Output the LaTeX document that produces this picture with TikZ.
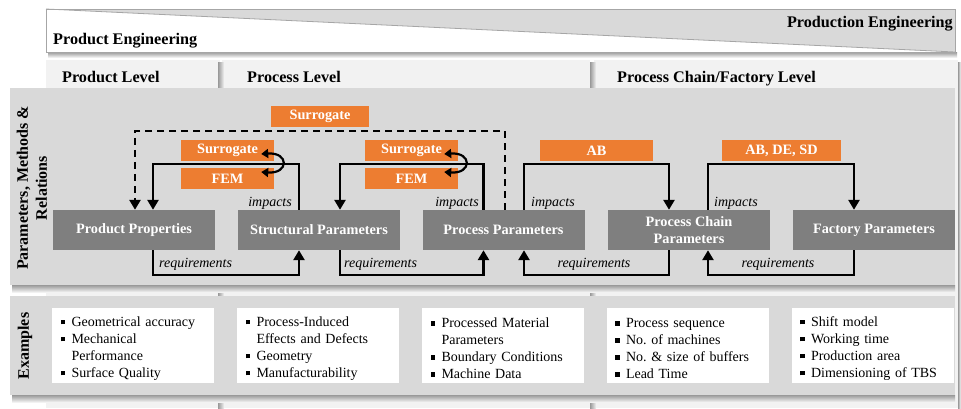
\documentclass[tikz,border=0pt]{standalone}
\usepackage{fontspec}
\setmainfont{Liberation Serif}
\usetikzlibrary{arrows.meta,calc}
\definecolor{band}{HTML}{D9D9D9}
\definecolor{panel}{HTML}{F2F2F2}
\definecolor{dbox}{HTML}{7F7F7F}
\definecolor{orng}{HTML}{ED7D31}
\newcommand\bitem[1]{\par\noindent\makebox[11pt][l]{\rule[2pt]{4.5pt}{4.5pt}}#1}
\newcommand\bcont[1]{\par\noindent\hspace*{11pt}#1}
\tikzset{
  hdr/.style={font=\fontsize{16.2}{18}\selectfont\bfseries, inner sep=0pt},
  lvl/.style={font=\fontsize{16.2}{18}\selectfont\bfseries, inner sep=0pt, anchor=base west},
  side/.style={font=\fontsize{16}{19}\selectfont\bfseries, rotate=90, align=center, inner sep=0pt},
  dbx/.style={fill=dbox, text=white, font=\fontsize{14.3}{17}\selectfont\bfseries, minimum width=162pt, minimum height=40pt, inner sep=0pt, align=center},
  obx/.style={fill=orng, text=white, font=\fontsize{14.3}{17}\selectfont\bfseries, minimum height=21pt, inner sep=0pt},
  conn/.style={line width=2.5pt, -{Triangle[length=10pt,width=11pt]}},
  dconn/.style={conn, dash pattern=on 7pt off 5pt},
  cyc/.style={line width=2.2pt, {Triangle[length=7pt,width=9pt]}-{Triangle[length=7pt,width=9pt]}},
  lbl/.style={font=\fontsize{14}{16}\selectfont\itshape, inner sep=0pt},
  exbox/.style={fill=white, minimum width=162pt, minimum height=75pt, text width=145pt, inner xsep=8.5pt, inner ysep=0pt, font=\fontsize{14}{17}\selectfont\frenchspacing, align=left}
}
\begin{document}
\begin{tikzpicture}[x=1pt,y=-1pt]
\useasboundingbox (0,0) rectangle (961,408);
\fill[white] (0,0) rectangle (961,408);
% column panels
\fill[panel] (46,60) rectangle (220,408);
\fill[panel] (222,60) rectangle (590,408);
\fill[panel] (594,60) rectangle (958,408);
\shade[left color=gray!80, right color=panel] (218,62) rectangle (224,408);
\shade[left color=gray!80, right color=panel] (590,62) rectangle (596,408);
\shade[left color=gray!80, right color=white] (958,62) rectangle (961,408);
% banner
\shade[top color=gray!80, bottom color=white] (48,52) rectangle (957,58);
\fill[white] (46,9) rectangle (955,52);
\fill[band] (46,9) -- (955,9) -- (955,52) -- cycle;
\draw[gray!70, line width=0.8pt] (46,9) -- (955,52);
\draw[gray!70, line width=0.8pt] (46,9) rectangle (955,52);
\node[hdr, anchor=base west] (pe) at (53,44) {Product Engineering};
\node[hdr, anchor=base east] (pre) at (953,27) {Production Engineering};
% level headers
\node[lvl] (l1) at (62,82) {Product Level};
\node[lvl] (l2) at (247,82) {Process Level};
\node[lvl] (l3) at (617,82) {Process Chain/Factory Level};
% bands
\shade[top color=gray!80, bottom color=panel] (12,285) rectangle (955,292);
\fill[band] (10,88) rectangle (955,285);
\shade[top color=gray!80, bottom color=panel] (12,395) rectangle (955,402);
\fill[band] (10,296) rectangle (955,395);
\node[side] (sl1) at (32,188) {Parameters, Methods \&\\Relations};
\node[side] (sl2) at (25,346) {Examples};
% main boxes
\node[dbx] (pp) at (134,230) {Product Properties};
\node[dbx] (sp) at (319,230) {Structural Parameters};
\node[dbx] (prp) at (503.5,230) {Process Parameters};
\node[dbx] (pcp) at (689,230) {Process Chain\\Parameters};
\node[dbx] (fp) at (874,230) {Factory Parameters};
% connectors
\draw[dconn] ([xshift=1.5pt]prp.north) -- ++(0,-79) -| ([xshift=1pt]pp.north);
\draw[conn] ([xshift=-20pt]sp.north) -- ++(0,-46) -| ([xshift=19pt]pp.north);
\draw[conn] ([xshift=-20pt]prp.north) -- ++(0,-46) -| ([xshift=21pt]sp.north);
\draw[conn] ([xshift=20.5pt]prp.north) -- ++(0,-46) -| ([xshift=-20pt]pcp.north);
\draw[conn] ([xshift=19pt]pcp.north) -- ++(0,-46) -| ([xshift=-20pt]fp.north);
\draw[conn] ([xshift=19pt]pp.south) -- ++(0,25) -| ([xshift=-20pt]sp.south);
\draw[conn] ([xshift=21pt]sp.south) -- ++(0,25) -| ([xshift=-20pt]prp.south);
\draw[conn] ([xshift=-20pt]pcp.south) -- ++(0,25) -| ([xshift=20.5pt]prp.south);
\draw[conn] ([xshift=-20pt]fp.south) -- ++(0,25) -| ([xshift=19pt]pcp.south);
% orange boxes
\node[obx, minimum width=98pt] (sur) at (320,116.5) {Surrogate};
\node[obx, minimum width=93pt] (s1) at (227.5,150.5) {Surrogate};
\node[obx, minimum width=93pt] (f1) at (227.5,178.5) {FEM};
\node[obx, minimum width=93pt] (s2) at (411.5,150.5) {Surrogate};
\node[obx, minimum width=93pt] (f2) at (411.5,178.5) {FEM};
\node[obx, minimum width=113pt] (ab) at (596.5,150.5) {AB};
\node[obx, minimum width=119pt] (ads) at (781.5,150.5) {AB, DE, SD};
% cycle arrows
\draw[cyc] ([xshift=-13pt,yshift=-3.5pt]s1.east) .. controls +(28,-2) and +(28,2) .. ([xshift=-13pt,yshift=6.5pt]f1.east);
\draw[cyc] ([xshift=-14pt,yshift=-3.5pt]s2.east) .. controls +(28,-2) and +(28,2) .. ([xshift=-14pt,yshift=6.5pt]f2.east);
% labels
\node[lbl, anchor=east] (i1) at (292,203) {impacts};
\node[lbl, anchor=east] (i2) at (479,203) {impacts};
\node[lbl, anchor=west] (i3) at (531,203) {impacts};
\node[lbl, anchor=west] (i4) at (714,203) {impacts};
\node[lbl, anchor=west] (r1) at (159,264) {requirements};
\node[lbl, anchor=west] (r2) at (344,264) {requirements};
\node[lbl] (r3) at (594,264) {requirements};
\node[lbl] (r4) at (778,264) {requirements};
% examples
\node[exbox] (e1) at (133,345) {\bitem{Geometrical accuracy}\bitem{Mechanical}\bcont{Performance}\bitem{Surface Quality}};
\node[exbox] (e2) at (318,345) {\bitem{Process-Induced}\bcont{Effects and Defects}\bitem{Geometry}\bitem{Manufacturability}};
\node[exbox] (e3) at (503,345) {\bitem{Processed Material}\bcont{Parameters}\bitem{Boundary Conditions}\bitem{Machine Data}};
\node[exbox] (e4) at (687.5,345) {\bitem{Process sequence}\bitem{No. of machines}\bitem{No. \& size of buffers}\bitem{Lead Time}};
\node[exbox] (e5) at (872.5,345) {\bitem{Shift model}\bitem{Working time}\bitem{Production area}\bitem{Dimensioning of TBS}};
\end{tikzpicture}
\end{document}
